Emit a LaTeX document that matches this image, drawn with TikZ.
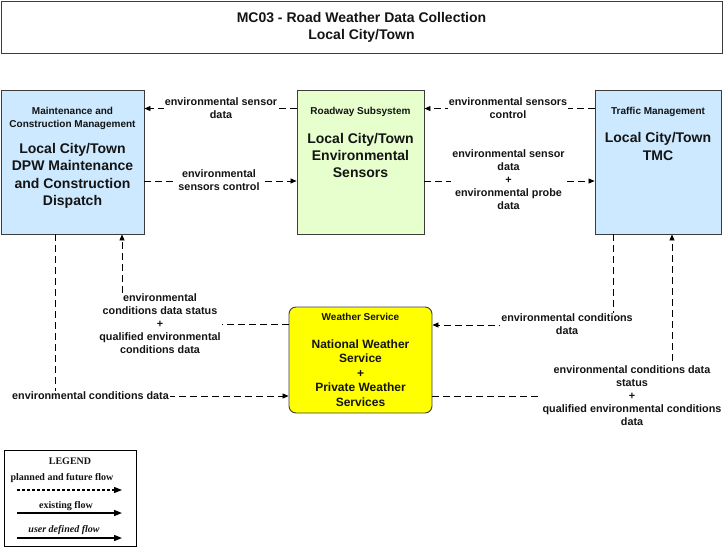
\documentclass[tikz,border=0pt]{standalone}
\usepackage{fontspec}
\setmainfont{Liberation Sans}
\newfontfamily\legendfont{Liberation Serif}
\usetikzlibrary{arrows.meta}
\definecolor{boxblue}{RGB}{204,233,255}
\definecolor{boxgreen}{RGB}{230,255,204}
\definecolor{boxyellow}{RGB}{255,255,0}
\definecolor{edgegray}{RGB}{60,60,60}
\definecolor{txt}{RGB}{20,20,20}
\begin{document}
\begin{tikzpicture}[x=1pt,y=-1pt,
  sysbox/.style={draw=edgegray,line width=0.9pt,inner sep=0pt},
  hdr/.style={font=\fontsize{10}{12.5}\selectfont\bfseries,align=center,text=txt,inner sep=0pt},
  mainlbl/.style={font=\fontsize{14}{17.3}\selectfont\bfseries,align=center,text=txt,inner sep=0pt},
  wmain/.style={font=\fontsize{12}{14.5}\selectfont\bfseries,align=center,text=txt,inner sep=0pt},
  flowlbl/.style={font=\fontsize{10.8}{13}\selectfont\bfseries,align=center,text=txt,fill=white,inner sep=1pt},
  flow/.style={draw=black,line width=0.8pt,dash pattern=on 7pt off 4pt,-{Triangle[length=6pt,width=5pt]}},
  legtxt/.style={font=\legendfont\fontsize{10}{12}\selectfont\bfseries,inner sep=0pt,text=txt},
  legarrow/.style={line width=1.4pt,-{Triangle[length=8pt,width=6pt]}}
]
\useasboundingbox (0,0) rectangle (727,549);
\fill[white] (0,0) rectangle (727,549);

% title
\node[sysbox,minimum width=721pt,minimum height=52pt] (title) at (361.5,27) {};
\node[font=\fontsize{14}{17}\selectfont\bfseries,align=center,text=txt,inner sep=0pt] (titletext) at (361.5,27)
  {MC03 - Road Weather Data Collection\\Local City/Town};

% boxes
\node[sysbox,fill=boxblue,minimum width=143pt,minimum height=144pt] (maint) at (72.5,162) {};
\node[sysbox,fill=boxgreen,minimum width=127pt,minimum height=144pt] (road) at (360.5,162) {};
\node[sysbox,fill=boxblue,minimum width=126pt,minimum height=144pt] (tmc) at (658,162) {};
\node[sysbox,fill=boxyellow,rounded corners=7pt,minimum width=143pt,minimum height=106pt] (weather) at (360.5,360) {};

% box texts
\node[hdr] (mainthdr) at (72.5,118.5) {Maintenance and\\Construction Management};
\node[mainlbl] (maintname) at (72.5,176) {Local City/Town\\DPW Maintenance\\and Construction\\Dispatch};
\node[hdr] (roadhdr) at (360.5,112) {Roadway Subsystem};
\node[mainlbl] (roadname) at (360.5,155.5) {Local City/Town\\Environmental\\Sensors};
\node[hdr] (tmchdr) at (658,112) {Traffic Management};
\node[mainlbl] (tmcname) at (658,146.5) {Local City/Town\\TMC};
\node[hdr] (weatherhdr) at (360.5,317) {Weather Service};
\node[wmain] (weathername) at (360.5,373) {National Weather\\Service\\+\\Private Weather\\Services};

% connector bend points
\coordinate (c5) at (122,324);
\coordinate (c6) at (55,396);
\coordinate (c7) at (613,325);
\coordinate (c8) at (672,396);

% connectors
\draw[flow] ([yshift=-19pt]road.north west) -- ([yshift=-19pt]maint.north east);
\draw[flow] ([yshift=-19pt]maint.east) -- ([yshift=-19pt]road.west);
\draw[flow] ([yshift=-19pt]tmc.north west) -- ([yshift=-19pt]road.north east);
\draw[flow] ([yshift=-19pt]road.east) -- ([yshift=-19pt]tmc.west);
\draw[flow] ([yshift=36pt]weather.west) -- (c5) -- (c5 |- maint.south);
\draw[flow] (c6 |- maint.south) -- (c6) -- ([yshift=-36pt]weather.west);
\draw[flow] (c7 |- tmc.south) -- (c7) -- ([yshift=35pt]weather.east);
\draw[flow] ([yshift=-36pt]weather.east) -- (c8) -- (c8 |- tmc.south);

% connector labels
\node[flowlbl] (l1) at (221,108) {environmental sensor\\data};
\node[flowlbl] (l2) at (219,180) {environmental\\sensors control};
\node[flowlbl] (l3) at (508,108) {environmental sensors\\control};
\node[flowlbl] (l4) at (508.5,180) {environmental sensor\\data\\+\\environmental probe\\data};
\node[flowlbl] (l5) at (160,323.5) {environmental\\conditions data status\\+\\qualified environmental\\conditions data};
\node[flowlbl] (l6) at (90.5,396) {environmental conditions data};
\node[flowlbl] (l7) at (567,324) {environmental conditions\\data};
\node[flowlbl] (l8) at (632,396) {environmental conditions data\\status\\+\\qualified environmental conditions\\data};

% legend
\node[draw=black,line width=0.8pt,minimum width=132pt,minimum height=96pt,inner sep=0pt] (legend) at (70,498) {};
\node[legtxt] (legtitle) at (70,461) {LEGEND};
\node[legtxt] (legplanned) at (62,478) {planned and future flow};
\coordinate (lp1) at (17,490);
\coordinate (lp2) at (122,490);
\draw[legarrow,line width=1.2pt,dash pattern=on 3pt off 2pt] (lp1) -- (lp2);
\node[legtxt] (legexist) at (66,506) {existing flow};
\coordinate (le1) at (17,513);
\coordinate (le2) at (122,513);
\draw[legarrow] (le1) -- (le2);
\node[legtxt,font=\legendfont\fontsize{10}{12}\selectfont\bfseries\itshape] (leguser) at (64,530) {user defined flow};
\coordinate (lu1) at (17,538);
\coordinate (lu2) at (122,538);
\draw[legarrow] (lu1) -- (lu2);
\end{tikzpicture}
\end{document}
